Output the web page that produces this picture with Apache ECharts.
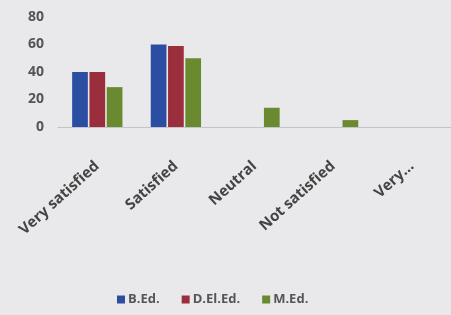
<!DOCTYPE html>
<html><head><meta charset="utf-8">
<script src="https://cdn.jsdelivr.net/npm/echarts@6/dist/echarts.min.js"></script>
<style>html,body{margin:0;padding:0;background:#e9e9eb;}#c{width:451px;height:315px;}</style>
</head><body><div id="c"></div>
<script>
const categories = ["Very satisfied", "Satisfied", "Neutral", "Not satisfied", "Very..."];
const bEd = [40, 60, 0, 0, 0];
const dElEd = [40, 59, 0, 0, 0];
const mEd = [29, 50, 14, 5, 0];
const yTicks = [0, 20, 40, 60, 80];

const chart = echarts.init(document.getElementById('c'));
const font = '"Open Sans", sans-serif';
chart.setOption({
  backgroundColor: '#e9e9eb',
  animation: false,
  grid: { left: 58, right: -24, top: 17, bottom: 188 },
  legend: {
    top: 288, left: 112, itemWidth: 8, itemHeight: 8, itemGap: 22,
    icon: 'rect',
    textStyle: { color: '#555', fontSize: 13, fontWeight: 'bold', fontFamily: font, padding: [0, 0, 0, -2] }
  },
  xAxis: {
    type: 'category', data: categories,
    axisLine: { lineStyle: { color: '#c4c4c8' } },
    axisTick: { show: false },
    axisLabel: { rotate: 42, interval: 0, color: '#444', fontSize: 15, fontWeight: 'bold', fontFamily: font, margin: 37 }
  },
  yAxis: {
    type: 'value', min: 0, max: 80, interval: 20,
    axisLine: { show: false }, axisTick: { show: false },
    splitLine: { show: false },
    axisLabel: { color: '#555', fontSize: 14, fontWeight: 'bold', fontFamily: font, margin: 14 }
  },
  series: [
    { name: 'B.Ed.', type: 'bar', data: bEd, itemStyle: { color: '#2b4ea3' }, barGap: '10%', barCategoryGap: '36%' },
    { name: 'D.El.Ed.', type: 'bar', data: dElEd, itemStyle: { color: '#9a2e3c' } },
    { name: 'M.Ed.', type: 'bar', data: mEd, itemStyle: { color: '#6a8a2f' } }
  ]
});
</script></body></html>
